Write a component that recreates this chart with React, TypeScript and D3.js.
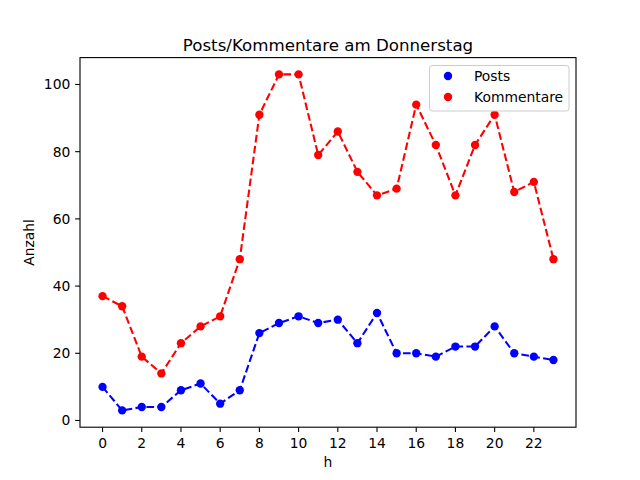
import * as d3 from "d3";

/** chart data */
const hours = d3.range(0, 24);
const posts = [10, 3, 4, 4, 9, 11, 5, 9, 26, 29, 31, 29, 30, 23, 32, 20, 20, 19, 22, 22, 28, 20, 19, 18];
const kommentare = [37, 34, 19, 14, 23, 28, 31, 48, 91, 103, 103, 79, 86, 74, 67, 69, 94, 82, 67, 82, 91, 68, 71, 48];
const xTicks = [0, 2, 4, 6, 8, 10, 12, 14, 16, 18, 20, 22];
const yTicks = [0, 20, 40, 60, 80, 100];

const series = [
  { name: "Posts", values: posts, color: "#0000ff" },
  { name: "Kommentare", values: kommentare, color: "#ff0000" },
];

/** svg dimensions (matplotlib default layout, 100 dpi) */
const width = 640;
const height = 480;
const left = 80;
const right = 576;
const top = 57.6;
const bottom = 427.2;
const font = "DejaVu Sans, sans-serif";
const fs = 13.89;

const App = () => {
  const xScale = d3.scaleLinear().domain([-1.15, 24.15]).range([left, right]);
  const yScale = d3.scaleLinear().domain([-2, 108]).range([bottom, top]);

  const line = d3
    .line<number>()
    .x((_, i) => xScale(hours[i]))
    .y((d) => yScale(d));

  return (
    <svg
      width={width}
      height={height}
      viewBox={[0, 0, width, height].join(" ")}
      style={{ position: "absolute", left: 0, top: 0, background: "#fff" }}
      fontFamily={font}
    >
      <rect x={0} y={0} width={width} height={height} fill="#fff" />
      {/* lines and markers */}
      {series.map((s) => (
        <g key={s.name}>
          <path
            d={line(s.values) ?? ""}
            fill="none"
            stroke={s.color}
            strokeWidth={2.08}
            strokeDasharray="7.7 3.33"
          />
          {s.values.map((v, i) => (
            <circle key={i} cx={xScale(hours[i])} cy={yScale(v)} r={4.17} fill={s.color} />
          ))}
        </g>
      ))}
      {/* axes frame */}
      <rect
        x={left}
        y={top}
        width={right - left}
        height={bottom - top}
        fill="none"
        stroke="#000"
        strokeWidth={1.1}
      />
      {/* x ticks */}
      {xTicks.map((t) => (
        <g key={t} transform={`translate(${xScale(t)},${bottom})`}>
          <line y2={4.86} stroke="#000" strokeWidth={1.1} />
          <text y={20.4} textAnchor="middle" fontSize={fs}>
            {t}
          </text>
        </g>
      ))}
      {/* y ticks */}
      {yTicks.map((t) => (
        <g key={t} transform={`translate(${left},${yScale(t)})`}>
          <line x2={-4.86} stroke="#000" strokeWidth={1.1} />
          <text x={-9.7} dy="0.35em" textAnchor="end" fontSize={fs}>
            {t}
          </text>
        </g>
      ))}
      {/* labels */}
      <text x={(left + right) / 2} y={467} textAnchor="middle" fontSize={fs}>
        h
      </text>
      <text
        transform={`translate(${34},${(top + bottom) / 2}) rotate(-90)`}
        textAnchor="middle"
        fontSize={fs}
      >
        Anzahl
      </text>
      <text x={(left + right) / 2} y={50.7} textAnchor="middle" fontSize={16.67}>
        Posts/Kommentare am Donnerstag
      </text>
      {/* legend */}
      <g>
        <rect
          x={429.5}
          y={65.5}
          width={139.5}
          height={45.5}
          rx={2.8}
          fill="#fff"
          fillOpacity={0.8}
          stroke="#cccccc"
          strokeWidth={1}
        />
        {series.map((s, i) => (
          <g key={s.name} transform={`translate(0,${76 + i * 21})`}>
            <circle cx={448} cy={0} r={4.17} fill={s.color} />
            <text x={474} dy="0.35em" fontSize={fs}>
              {s.name}
            </text>
          </g>
        ))}
      </g>
    </svg>
  );
};

export default App;
